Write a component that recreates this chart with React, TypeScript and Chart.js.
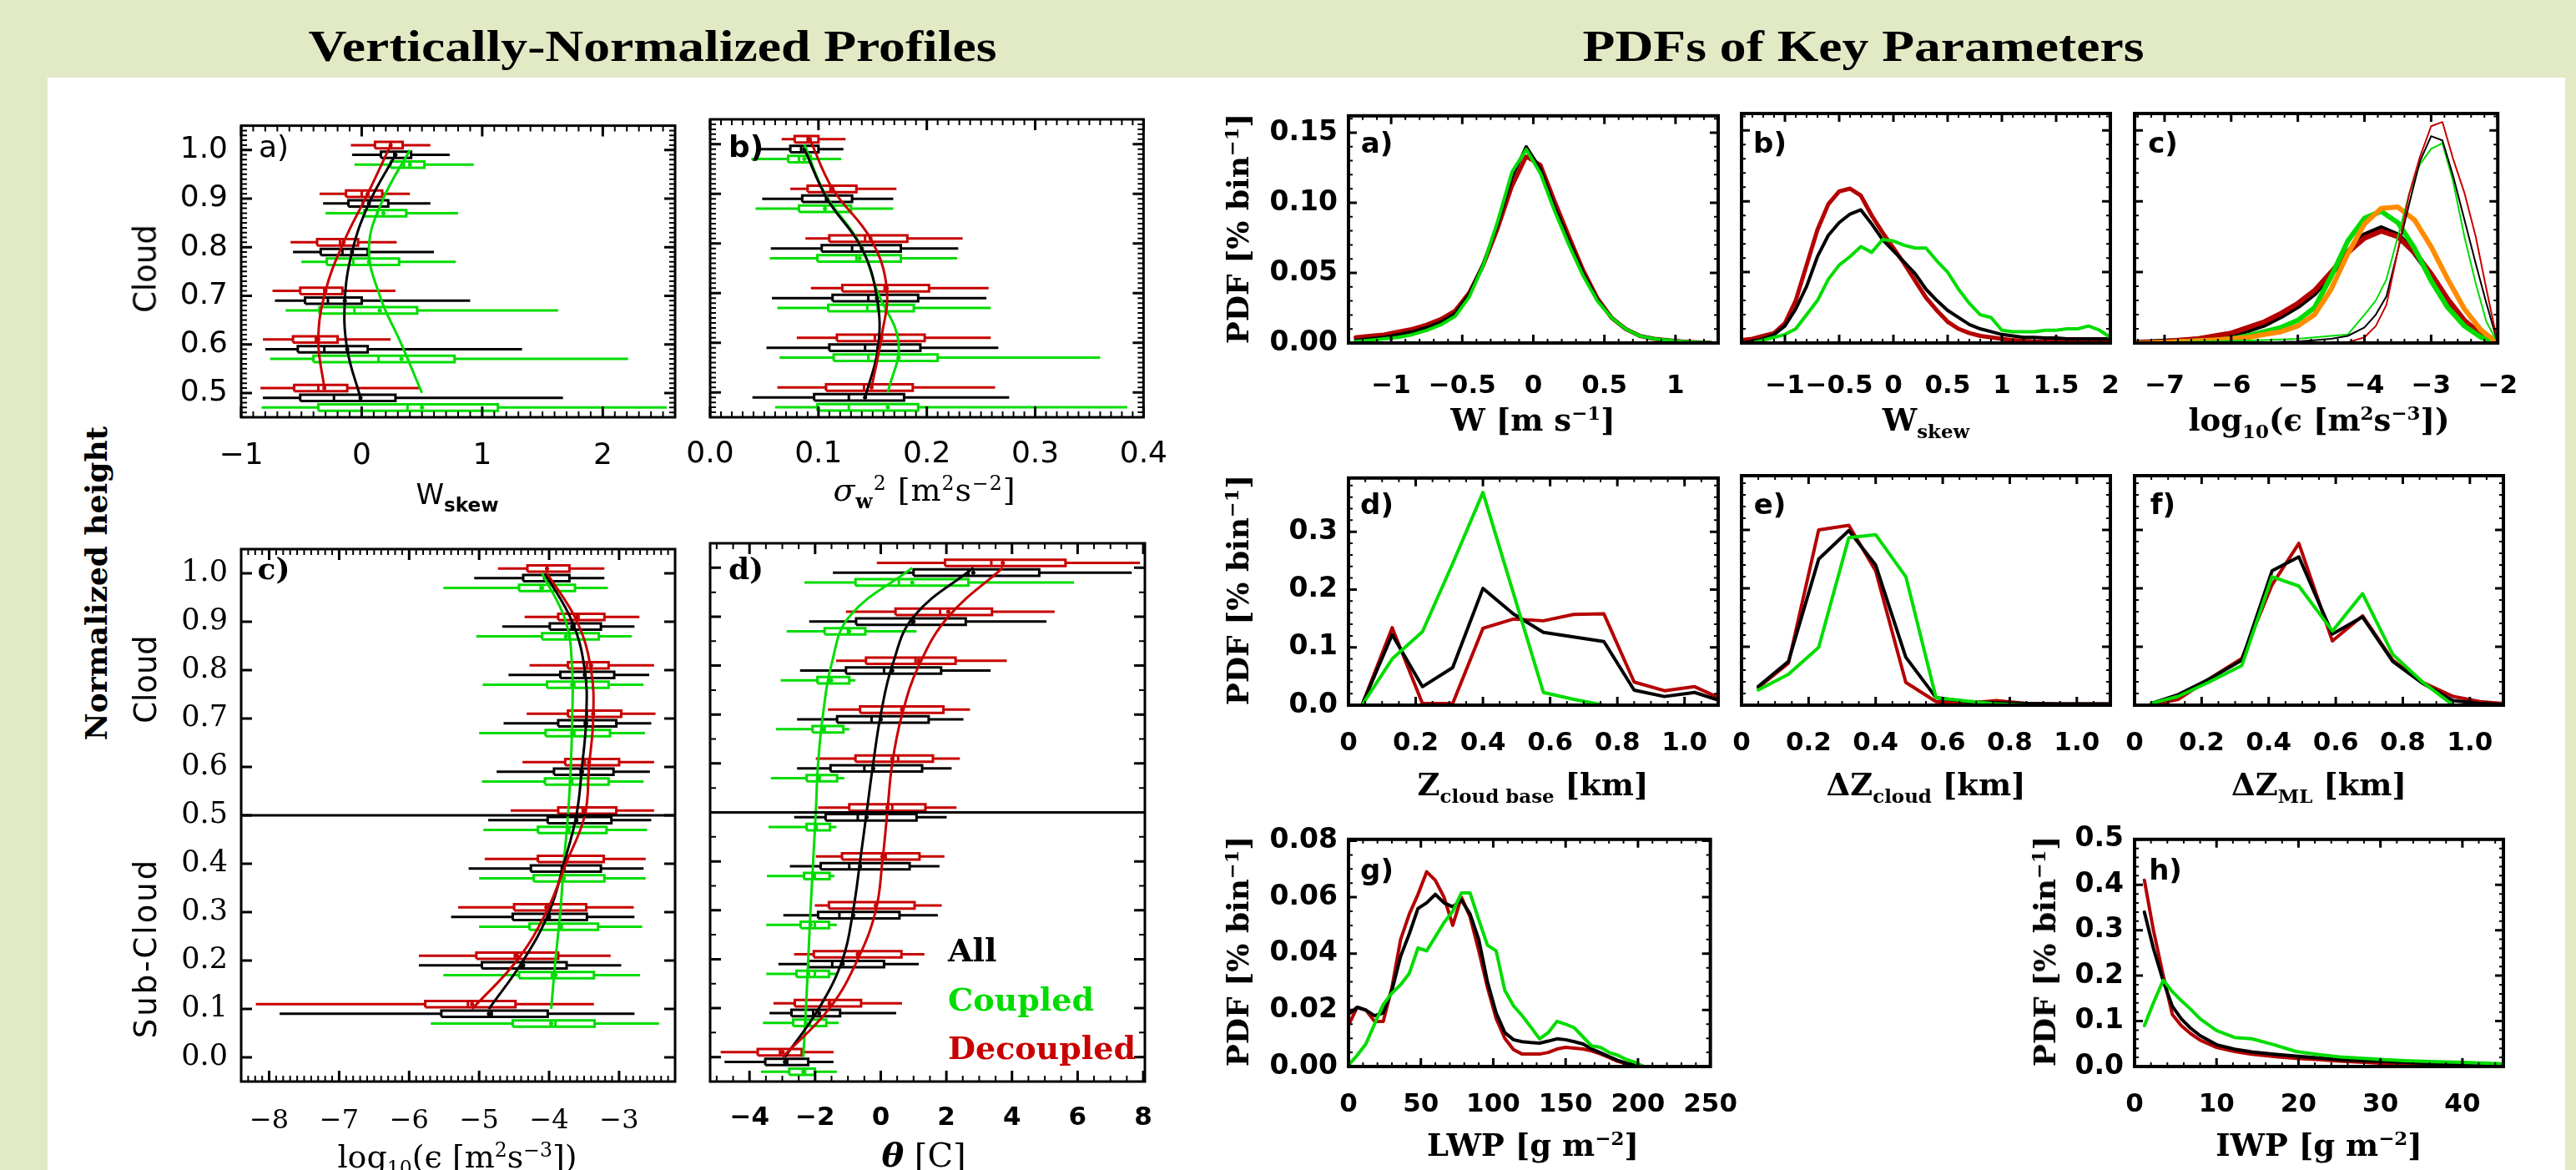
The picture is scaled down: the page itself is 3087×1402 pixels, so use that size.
import React, { useEffect, useRef } from "react";
import { Chart, registerables } from "chart.js";
Chart.register(...registerables);

const BLACK = "#000000";
const GREEN = "#00dc00";
const RED = "#c80000";
const DRED = "#b40000";
const ORANGE = "#ff8c00";

// ---------------- Left: vertically-normalized profiles ----------------
// rows: [whiskerMin, q1, median, q3, whiskerMax, mean]
const LEVELS_AB = [1.0, 0.9, 0.8, 0.7, 0.6, 0.5];
const LEVELS_C = [1.0, 0.9, 0.8, 0.7, 0.6, 0.5, 0.4, 0.3, 0.2, 0.1];
const LEVELS_D = [1.0, 0.9, 0.8, 0.7, 0.6, 0.5, 0.4, 0.3, 0.2, 0.1, 0.0];

const WSKEW_DEC = [
  [-0.09, 0.11, 0.24, 0.34, 0.57, 0.24],
  [-0.35, -0.13, 0.0, 0.17, 0.4, 0.05],
  [-0.59, -0.37, -0.18, -0.03, 0.29, -0.15],
  [-0.74, -0.51, -0.31, -0.16, 0.28, -0.3],
  [-0.82, -0.57, -0.38, -0.2, 0.24, -0.36],
  [-0.84, -0.56, -0.36, -0.12, 0.48, -0.31],
];
const WSKEW_ALL = [
  [-0.08, 0.16, 0.27, 0.41, 0.73, 0.28],
  [-0.32, -0.11, 0.01, 0.22, 0.57, 0.06],
  [-0.57, -0.34, -0.16, 0.05, 0.6, -0.08],
  [-0.72, -0.47, -0.28, 0.0, 0.9, -0.14],
  [-0.8, -0.53, -0.31, 0.05, 1.33, -0.12],
  [-0.82, -0.51, -0.23, 0.28, 1.67, -0.01],
];
const WSKEW_CPL = [
  [-0.06, 0.24, 0.35, 0.52, 0.93, 0.4],
  [-0.3, 0.02, 0.13, 0.37, 0.8, 0.18],
  [-0.5, -0.29, -0.07, 0.31, 0.78, 0.06],
  [-0.63, -0.35, -0.06, 0.46, 1.63, 0.15],
  [-0.76, -0.4, 0.14, 0.77, 2.21, 0.33],
  [-0.83, -0.36, 0.38, 1.13, 2.53, 0.5],
];

const SIGW_DEC = [
  [0.066, 0.078, 0.09, 0.1, 0.125, 0.092],
  [0.074, 0.09, 0.111, 0.135, 0.172, 0.113],
  [0.088, 0.11, 0.143, 0.182, 0.233, 0.148],
  [0.093, 0.122, 0.161, 0.202, 0.257, 0.163],
  [0.08, 0.117, 0.152, 0.198, 0.259, 0.158],
  [0.062, 0.107, 0.142, 0.187, 0.263, 0.149],
];
const SIGW_ALL = [
  [0.046, 0.074, 0.084, 0.1, 0.123, 0.087],
  [0.048, 0.085, 0.107, 0.131, 0.169, 0.108],
  [0.056, 0.103, 0.131, 0.176, 0.229, 0.14],
  [0.057, 0.113, 0.146, 0.192, 0.255, 0.154],
  [0.052, 0.11, 0.143, 0.194, 0.266, 0.155],
  [0.039, 0.096, 0.128, 0.179, 0.276, 0.143],
];
const SIGW_CPL = [
  [0.038, 0.072, 0.082, 0.093, 0.121, 0.087],
  [0.042, 0.082, 0.106, 0.13, 0.169, 0.106],
  [0.055, 0.099, 0.135, 0.176, 0.228, 0.138],
  [0.062, 0.109, 0.145, 0.188, 0.259, 0.155],
  [0.064, 0.114, 0.146, 0.21, 0.36, 0.174],
  [0.06, 0.099, 0.128, 0.192, 0.385, 0.164],
];

const EPS_DEC = [
  [-4.73, -4.31, -4.03, -3.71, -3.21, -4.03],
  [-4.35, -3.87, -3.58, -3.21, -2.71, -3.6],
  [-4.28, -3.73, -3.46, -3.15, -2.5, -3.4],
  [-4.32, -3.73, -3.46, -2.97, -2.48, -3.37],
  [-4.38, -3.77, -3.49, -3.0, -2.5, -3.43],
  [-4.55, -3.87, -3.52, -3.04, -2.5, -3.49],
  [-4.92, -4.16, -3.76, -3.22, -2.62, -3.76],
  [-5.3, -4.5, -4.0, -3.47, -2.79, -4.04],
  [-5.86, -5.04, -4.49, -3.87, -3.12, -4.46],
  [-8.19, -5.77, -5.16, -4.48, -3.36, -5.1],
];
const EPS_ALL = [
  [-5.07, -4.37, -4.06, -3.71, -3.21, -4.06],
  [-4.67, -3.99, -3.64, -3.26, -2.78, -3.67],
  [-4.58, -3.84, -3.49, -3.07, -2.57, -3.49],
  [-4.65, -3.87, -3.49, -3.04, -2.54, -3.47],
  [-4.75, -3.93, -3.55, -3.08, -2.56, -3.53],
  [-4.87, -4.02, -3.61, -3.11, -2.54, -3.61],
  [-5.15, -4.26, -3.82, -3.26, -2.65, -3.79],
  [-5.4, -4.52, -4.0, -3.46, -2.78, -4.0],
  [-5.86, -4.96, -4.4, -3.75, -2.97, -4.37],
  [-7.85, -5.54, -4.82, -4.02, -2.78, -4.86],
];
const EPS_CPL = [
  [-5.51, -4.43, -4.12, -3.63, -3.16, -4.1],
  [-5.04, -4.1, -3.71, -3.29, -2.82, -3.76],
  [-4.95, -4.03, -3.64, -3.15, -2.65, -3.67],
  [-5.0, -4.05, -3.64, -3.13, -2.63, -3.67],
  [-4.96, -4.06, -3.67, -3.15, -2.65, -3.69],
  [-4.94, -4.16, -3.71, -3.18, -2.6, -3.73],
  [-5.0, -4.22, -3.79, -3.21, -2.62, -3.79],
  [-5.0, -4.28, -3.82, -3.3, -2.67, -3.84],
  [-5.51, -4.43, -3.96, -3.36, -2.7, -3.91],
  [-5.69, -4.52, -3.91, -3.35, -2.43, -3.97],
];

const THETA_DEC = [
  [-0.12, 1.96, 3.37, 5.63, 7.9, 3.72],
  [-1.06, 0.45, 1.81, 3.39, 5.3, 2.06],
  [-1.36, -0.45, 1.06, 2.28, 3.84, 1.16],
  [-1.61, -0.63, 0.65, 1.91, 2.72, 0.65],
  [-1.98, -0.77, 0.53, 1.59, 2.41, 0.35],
  [-1.91, -0.96, 0.35, 1.36, 2.31, 0.2],
  [-1.98, -1.18, 0.15, 1.18, 1.94, 0.05],
  [-2.01, -1.58, -0.15, 1.03, 1.86, -0.15],
  [-2.64, -2.04, -0.7, 0.63, 1.33, -0.7],
  [-3.27, -2.62, -1.56, -0.6, 0.65, -1.56],
  [-4.88, -3.75, -3.07, -2.41, -1.44, -2.99],
];
const THETA_ALL = [
  [-1.46, 1.0, 2.67, 4.83, 7.65, 2.82],
  [-2.18, -0.75, 0.96, 2.59, 5.05, 1.0],
  [-2.46, -1.06, 0.1, 1.84, 3.35, 0.35],
  [-2.55, -1.33, -0.28, 1.46, 2.52, 0.0],
  [-2.55, -1.53, -0.5, 1.26, 2.16, -0.23],
  [-2.64, -1.68, -0.7, 1.09, 2.01, -0.43],
  [-2.77, -1.83, -0.96, 0.88, 1.79, -0.63],
  [-2.97, -1.91, -1.26, 0.57, 1.74, -0.84],
  [-3.12, -2.21, -1.48, 0.1, 1.16, -1.16],
  [-3.39, -2.72, -2.06, -1.24, 0.47, -1.88],
  [-4.76, -3.52, -2.85, -2.21, -1.44, -2.92],
];
const THETA_CPL = [
  [-2.33, -0.77, 0.55, 2.67, 5.89, 0.96],
  [-2.87, -1.71, -1.0, -0.47, 1.09, -0.96],
  [-3.05, -1.93, -1.56, -0.96, -0.77, -1.51],
  [-3.19, -2.08, -1.71, -1.14, -0.96, -1.76],
  [-3.35, -2.26, -1.86, -1.33, -1.11, -1.91],
  [-3.42, -2.26, -1.96, -1.55, -1.35, -1.98],
  [-3.47, -2.34, -2.01, -1.56, -1.41, -2.06],
  [-3.49, -2.44, -2.01, -1.58, -1.34, -2.14],
  [-3.49, -2.57, -2.01, -1.58, -1.31, -2.21],
  [-3.59, -2.67, -2.16, -1.66, -1.28, -2.28],
  [-3.65, -2.79, -2.31, -2.01, -1.34, -2.36],
];

// tick values / labels (left)
const A_XTICKS = [-1, 0, 1, 2];
const A_XLABELS = ["\u22121", "0", "1", "2"];
const B_XTICKS = [0, 0.1, 0.2, 0.3, 0.4];
const B_XLABELS = ["0.0", "0.1", "0.2", "0.3", "0.4"];
const AB_YTICKS = [0.5, 0.6, 0.7, 0.8, 0.9, 1.0];
const AB_YLABELS = ["0.5", "0.6", "0.7", "0.8", "0.9", "1.0"];
const C_XTICKS = [-8, -7, -6, -5, -4, -3];
const C_XLABELS = ["\u22128", "\u22127", "\u22126", "\u22125", "\u22124", "\u22123"];
const D_XTICKS = [-4, -2, 0, 2, 4, 6, 8];
const D_XLABELS = ["\u22124", "\u22122", "0", "2", "4", "6", "8"];
const CD_YTICKS = [0, 0.1, 0.2, 0.3, 0.4, 0.5, 0.6, 0.7, 0.8, 0.9, 1.0];
const CD_YLABELS = ["0.0", "0.1", "0.2", "0.3", "0.4", "0.5", "0.6", "0.7", "0.8", "0.9", "1.0"];

// ---------------- Right: PDFs ----------------
const W_X = [-1.25, -1.15, -1.05, -0.95, -0.85, -0.75, -0.65, -0.55, -0.45, -0.35, -0.25, -0.15, -0.05, 0.05, 0.15, 0.25, 0.35, 0.45, 0.55, 0.65, 0.75, 0.85, 0.95, 1.05, 1.15, 1.25];
const W_ALL = [0.002, 0.003, 0.004, 0.006, 0.008, 0.011, 0.015, 0.021, 0.035, 0.057, 0.085, 0.118, 0.14, 0.124, 0.097, 0.073, 0.05, 0.031, 0.018, 0.01, 0.005, 0.003, 0.002, 0.001, 0.0005, 0.0002];
const W_DEC = [0.004, 0.005, 0.006, 0.008, 0.01, 0.013, 0.017, 0.023, 0.036, 0.056, 0.082, 0.112, 0.133, 0.127, 0.101, 0.076, 0.052, 0.032, 0.018, 0.01, 0.005, 0.003, 0.002, 0.001, 0.0005, 0.0002];
const W_CPL = [0.001, 0.002, 0.003, 0.004, 0.006, 0.009, 0.013, 0.019, 0.033, 0.056, 0.087, 0.122, 0.138, 0.121, 0.094, 0.07, 0.048, 0.03, 0.018, 0.01, 0.005, 0.003, 0.002, 0.001, 0.0005, 0.0002];

const SK_X = [-1.4, -1.3, -1.2, -1.1, -1.0, -0.9, -0.8, -0.7, -0.6, -0.5, -0.4, -0.3, -0.2, -0.1, 0.0, 0.1, 0.2, 0.3, 0.4, 0.5, 0.6, 0.7, 0.8, 0.9, 1.0, 1.1, 1.2, 1.3, 1.4, 1.5, 1.6, 1.7, 1.8, 1.9, 2.0];
const SK_DEC = [0.002, 0.003, 0.005, 0.007, 0.014, 0.03, 0.055, 0.08, 0.098, 0.107, 0.109, 0.104, 0.09, 0.078, 0.067, 0.056, 0.044, 0.032, 0.023, 0.015, 0.01, 0.007, 0.005, 0.004, 0.003, 0.002, 0.0015, 0.001, 0.001, 0.001, 0.0008, 0.0006, 0.0005, 0.0005, 0.0005];
const SK_ALL = [0.0, 0.001, 0.003, 0.006, 0.012, 0.024, 0.04, 0.061, 0.076, 0.085, 0.091, 0.094, 0.084, 0.073, 0.065, 0.057, 0.049, 0.038, 0.03, 0.023, 0.018, 0.013, 0.01, 0.008, 0.006, 0.005, 0.004, 0.004, 0.0035, 0.0035, 0.003, 0.003, 0.003, 0.003, 0.003];
const SK_CPL = [0.0, 0.0, 0.002, 0.004, 0.006, 0.01, 0.02, 0.03, 0.045, 0.055, 0.061, 0.068, 0.064, 0.073, 0.072, 0.069, 0.067, 0.067, 0.058, 0.05, 0.038, 0.028, 0.02, 0.018, 0.009, 0.008, 0.008, 0.008, 0.009, 0.009, 0.01, 0.01, 0.012, 0.009, 0.004];

const EPS_X = [-7.5, -7.25, -7, -6.75, -6.5, -6.25, -6, -5.75, -5.5, -5.25, -5, -4.75, -4.5, -4.25, -4, -3.75, -3.5, -3.25, -3, -2.75, -2.5, -2.25, -2];
const EPS_PDF_ALL = [0.0, 0.0005, 0.001, 0.0015, 0.0025, 0.004, 0.006, 0.009, 0.013, 0.019, 0.026, 0.035, 0.049, 0.064, 0.076, 0.081, 0.076, 0.064, 0.048, 0.03, 0.015, 0.005, 0.0];
const EPS_PDF_DEC = [0.0, 0.0005, 0.001, 0.002, 0.003, 0.005, 0.007, 0.011, 0.015, 0.021, 0.028, 0.037, 0.05, 0.064, 0.074, 0.079, 0.075, 0.064, 0.049, 0.031, 0.016, 0.006, 0.0];
const EPS_PDF_CPL = [0.0, 0.0, 0.0005, 0.001, 0.0015, 0.002, 0.003, 0.005, 0.008, 0.011, 0.016, 0.025, 0.047, 0.072, 0.088, 0.093, 0.085, 0.067, 0.044, 0.025, 0.012, 0.004, 0.0];
const EPS_PDF_ORANGE = [0.0, 0.0, 0.0005, 0.001, 0.0015, 0.002, 0.003, 0.004, 0.006, 0.008, 0.012, 0.02, 0.038, 0.063, 0.084, 0.095, 0.096, 0.087, 0.068, 0.045, 0.024, 0.009, 0.0];
const EPS_THIN_X = [-7.5, -6.5, -5.5, -5.0, -4.5, -4.25, -4.0, -3.83, -3.67, -3.5, -3.33, -3.17, -3.0, -2.83, -2.67, -2.5, -2.33, -2.17, -2.0];
const EPS_THIN_ALL = [0, 0, 0.0005, 0.001, 0.003, 0.005, 0.011, 0.02, 0.033, 0.065, 0.098, 0.128, 0.146, 0.143, 0.118, 0.087, 0.056, 0.028, 0.0];
const EPS_THIN_DEC = [0, 0, 0, 0, 0, 0.0005, 0.004, 0.012, 0.027, 0.065, 0.105, 0.131, 0.153, 0.156, 0.13, 0.106, 0.075, 0.038, 0.0];
const EPS_THIN_CPL = [0, 0.001, 0.002, 0.003, 0.005, 0.006, 0.02, 0.03, 0.045, 0.075, 0.105, 0.126, 0.137, 0.141, 0.114, 0.075, 0.042, 0.015, 0.0];

const ZB_X = [0.04, 0.13, 0.22, 0.31, 0.4, 0.49, 0.58, 0.67, 0.76, 0.85, 0.94, 1.03, 1.12];
const ZB_DEC = [0.0, 0.134, 0.003, 0.003, 0.133, 0.149, 0.146, 0.157, 0.158, 0.04, 0.025, 0.032, 0.008];
const ZB_ALL = [0.0, 0.122, 0.032, 0.065, 0.202, 0.158, 0.126, 0.118, 0.11, 0.026, 0.015, 0.022, 0.005];
const ZB_CPL = [0.0, 0.08, 0.127, 0.245, 0.368, 0.195, 0.022, 0.01, 0.0, 0.0, 0.0, 0.0, 0.0];

const DZC_X = [0.05, 0.14, 0.23, 0.32, 0.4, 0.49, 0.58, 0.67, 0.76, 0.85, 0.94, 1.03, 1.12];
const DZC_DEC = [0.03, 0.072, 0.3, 0.308, 0.23, 0.039, 0.006, 0.003, 0.008, 0.003, 0.002, 0.002, 0.002];
const DZC_ALL = [0.032, 0.075, 0.25, 0.299, 0.24, 0.082, 0.013, 0.006, 0.004, 0.003, 0.002, 0.002, 0.002];
const DZC_CPL = [0.026, 0.053, 0.099, 0.287, 0.292, 0.22, 0.013, 0.007, 0.002, 0.0, 0.0, 0.0, 0.0];

const DZML_X = [0.05, 0.13, 0.22, 0.32, 0.41, 0.49, 0.59, 0.68, 0.77, 0.86, 0.95, 1.03, 1.12];
const DZML_DEC = [0.0, 0.01, 0.044, 0.08, 0.206, 0.277, 0.11, 0.153, 0.077, 0.039, 0.015, 0.006, 0.002];
const DZML_ALL = [0.003, 0.018, 0.044, 0.077, 0.23, 0.254, 0.122, 0.151, 0.075, 0.037, 0.008, 0.003, 0.001];
const DZML_CPL = [0.003, 0.015, 0.039, 0.068, 0.22, 0.204, 0.127, 0.191, 0.087, 0.039, 0.0, 0.0, 0.0];

const LWP_X = [0, 6, 12, 18, 24, 30, 36, 42, 48, 54, 60, 66, 72, 78, 84, 90, 96, 102, 108, 114, 120, 126, 132, 138, 144, 150, 156, 162, 168, 174, 180, 186, 192, 198, 204];
const LWP_DEC = [0.0146, 0.021, 0.02, 0.016, 0.016, 0.028, 0.045, 0.054, 0.061, 0.069, 0.066, 0.06, 0.05, 0.06, 0.053, 0.041, 0.028, 0.017, 0.01, 0.006, 0.0044, 0.0044, 0.0044, 0.005, 0.0062, 0.0068, 0.0065, 0.0062, 0.0055, 0.0045, 0.0032, 0.0018, 0.001, 0.0004, 0.0];
const LWP_ALL = [0.0185, 0.021, 0.02, 0.018, 0.019, 0.027, 0.039, 0.047, 0.056, 0.058, 0.061, 0.058, 0.0566, 0.059, 0.054, 0.045, 0.03, 0.019, 0.012, 0.0095, 0.0088, 0.0085, 0.0083, 0.009, 0.0098, 0.0095, 0.0088, 0.008, 0.0062, 0.0049, 0.0035, 0.0022, 0.0012, 0.0005, 0.0];
const LWP_CPL = [0.0005, 0.004, 0.008, 0.015, 0.022, 0.026, 0.029, 0.033, 0.042, 0.041, 0.046, 0.051, 0.055, 0.0615, 0.0615, 0.052, 0.043, 0.041, 0.027, 0.0215, 0.018, 0.014, 0.0098, 0.012, 0.016, 0.015, 0.0137, 0.0105, 0.0073, 0.0068, 0.005, 0.004, 0.0025, 0.0015, 0.0];

const IWP_X = [1.2, 2.3, 3.5, 4.6, 5.7, 6.8, 8, 10, 12.2, 14.3, 17, 19.7, 22.5, 25, 28, 30.5, 33, 35.9, 40, 45];
const IWP_DEC = [0.41, 0.3, 0.2, 0.115, 0.09, 0.073, 0.058, 0.042, 0.033, 0.027, 0.022, 0.018, 0.015, 0.012, 0.009, 0.007, 0.0055, 0.004, 0.0025, 0.001];
const IWP_ALL = [0.34, 0.26, 0.188, 0.133, 0.105, 0.085, 0.068, 0.048, 0.038, 0.032, 0.027, 0.023, 0.019, 0.015, 0.013, 0.011, 0.009, 0.007, 0.005, 0.003];
const IWP_CPL = [0.09, 0.14, 0.19, 0.165, 0.145, 0.127, 0.105, 0.079, 0.064, 0.061, 0.048, 0.033, 0.026, 0.021, 0.018, 0.015, 0.013, 0.011, 0.009, 0.006];

// tick values / labels (right)
const RA_XTICKS = [-1, -0.5, 0, 0.5, 1];
const RA_XLABELS = ["\u22121", "\u22120.5", "0", "0.5", "1"];
const RB_XTICKS = [-1, -0.5, 0, 0.5, 1, 1.5, 2];
const RB_XLABELS = ["\u22121", "\u22120.5", "0", "0.5", "1", "1.5", "2"];
const RC_XTICKS = [-7, -6, -5, -4, -3, -2];
const RC_XLABELS = ["\u22127", "\u22126", "\u22125", "\u22124", "\u22123", "\u22122"];
const R1_YTICKS = [0, 0.05, 0.1, 0.15];
const R1_YLABELS = ["0.00", "0.05", "0.10", "0.15"];
const R2_XTICKS = [0, 0.2, 0.4, 0.6, 0.8, 1.0];
const R2_XLABELS = ["0", "0.2", "0.4", "0.6", "0.8", "1.0"];
const R2_YTICKS = [0, 0.1, 0.2, 0.3];
const R2_YLABELS = ["0.0", "0.1", "0.2", "0.3"];
const RG_XTICKS = [0, 50, 100, 150, 200, 250];
const RG_XLABELS = ["0", "50", "100", "150", "200", "250"];
const RG_YTICKS = [0, 0.02, 0.04, 0.06, 0.08];
const RG_YLABELS = ["0.00", "0.02", "0.04", "0.06", "0.08"];
const RH_XTICKS = [0, 10, 20, 30, 40];
const RH_XLABELS = ["0", "10", "20", "30", "40"];
const RH_YTICKS = [0, 0.1, 0.2, 0.3, 0.4, 0.5];
const RH_YLABELS = ["0.0", "0.1", "0.2", "0.3", "0.4", "0.5"];

// ---------------- helpers ----------------
const HH = 0.0065;
const PAD_T = 30;
const PAD_R = 50;
const PAD_B = 100;

function boxPoints(levels: number[], rows: number[][], dy: number) {
  const pts: any[] = [];
  rows.forEach((r, i) => {
    const y = levels[i] + dy;
    const [mn, q1, md, q3, mx] = r;
    pts.push({ x: mn, y }, { x: q1, y }, { x: q1, y: null });
    pts.push({ x: q3, y }, { x: mx, y }, { x: mx, y: null });
    pts.push({ x: q1, y: y - HH }, { x: q3, y: y - HH }, { x: q3, y: y + HH }, { x: q1, y: y + HH }, { x: q1, y: y - HH }, { x: q1, y: null });
    pts.push({ x: md, y: y - HH }, { x: md, y: y + HH }, { x: md, y: null });
  });
  return pts;
}

function profileDatasets(levels: number[], dec: number[][], all: number[][], cpl: number[][], shiftLines: boolean) {
  const groups: any[] = [
    [dec, RED, 0.01, shiftLines ? 0.01 : 0],
    [all, BLACK, -0.01, shiftLines ? -0.01 : 0],
    [cpl, GREEN, -0.03, 0],
  ];
  const lines = groups.map(([rows, c, , ld]) => ({
    data: rows.map((r: number[], i: number) => ({ x: r[5], y: levels[i] + ld })),
    borderColor: c, backgroundColor: c, borderWidth: 3, pointRadius: 0, tension: 0.4,
  }));
  const dots = groups.map(([rows, c, d]) => ({
    data: rows.map((r: number[], i: number) => ({ x: r[5], y: levels[i] + d })),
    showLine: false, pointRadius: 2.5, pointBackgroundColor: c, pointBorderWidth: 0, borderColor: c, backgroundColor: c,
  }));
  const boxes = groups.map(([rows, c, d]) => ({
    data: boxPoints(levels, rows, d),
    borderColor: c, backgroundColor: c, borderWidth: 3, pointRadius: 0, tension: 0, spanGaps: false,
  }));
  return [...lines, ...dots, ...boxes];
}

function pdf(xs: number[], ys: number[], color: string, width: number) {
  return {
    data: xs.map((x, i) => ({ x, y: ys[i] })),
    borderColor: color, backgroundColor: color, borderWidth: width, pointRadius: 0, tension: 0,
    borderJoinStyle: "round", borderCapStyle: "round",
  };
}

function steps(min: number, max: number, step: number) {
  const out: number[] = [];
  const n0 = Math.ceil(min / step - 1e-9);
  const n1 = Math.floor(max / step + 1e-9);
  for (let k = n0; k <= n1; k++) out.push(k * step);
  return out;
}

function idlPlugin(p: any) {
  return {
    id: "idl" + p.id,
    afterDatasetsDraw(chart: any) {
      const { ctx, chartArea: a } = chart;
      const xs = chart.scales.x;
      const ys = chart.scales.y;
      ctx.save();
      ctx.strokeStyle = "#000";
      ctx.lineCap = "butt";
      if (p.hline != null) {
        const py = ys.getPixelForValue(p.hline);
        ctx.lineWidth = 3;
        ctx.beginPath();
        ctx.moveTo(a.left, py);
        ctx.lineTo(a.right, py);
        ctx.stroke();
      }
      const drawX = (vals: number[], len: number, lw: number) => {
        ctx.lineWidth = lw;
        ctx.beginPath();
        vals.forEach((v) => {
          const px = xs.getPixelForValue(v);
          if (px < a.left - 0.5 || px > a.right + 0.5) return;
          ctx.moveTo(px, a.bottom);
          ctx.lineTo(px, a.bottom - len);
          ctx.moveTo(px, a.top);
          ctx.lineTo(px, a.top + len);
        });
        ctx.stroke();
      };
      const drawY = (vals: number[], len: number, lw: number) => {
        ctx.lineWidth = lw;
        ctx.beginPath();
        vals.forEach((v) => {
          const py = ys.getPixelForValue(v);
          if (py < a.top - 0.5 || py > a.bottom + 0.5) return;
          ctx.moveTo(a.left, py);
          ctx.lineTo(a.left + len, py);
          ctx.moveTo(a.right, py);
          ctx.lineTo(a.right - len, py);
        });
        ctx.stroke();
      };
      if (p.xMinor) drawX(steps(p.xMin, p.xMax, p.xMinor), p.minor, 2);
      if (p.yMinor) drawY(steps(p.yMin, p.yMax, p.yMinor), p.minor, 2);
      drawX(p.xTicks, p.major, 3);
      drawY(p.yTicks, p.major, 3);
      ctx.lineWidth = p.frameW;
      ctx.strokeRect(a.left, a.top, a.right - a.left, a.bottom - a.top);
      ctx.restore();
    },
  };
}

function axis(min: number, max: number, ticks: number[], labels: string[] | null, font: any, pad: number, fit: (s: any) => void) {
  return {
    type: "linear",
    min, max,
    grid: { display: false, drawTicks: false },
    border: { display: false },
    ticks: {
      display: !!labels,
      autoSkip: false,
      maxRotation: 0,
      minRotation: 0,
      padding: pad,
      color: "#000",
      font,
      callback: (_v: any, i: number) => (labels ? labels[i] : ""),
    },
    afterBuildTicks: (s: any) => {
      s.ticks = ticks.map((v) => ({ value: v }));
    },
    afterFit: fit,
  };
}

function makeConfig(p: any): any {
  return {
    type: "line",
    data: { datasets: p.datasets },
    options: {
      responsive: false,
      maintainAspectRatio: false,
      animation: false,
      devicePixelRatio: 1,
      events: [],
      layout: { padding: { left: 0, right: PAD_R, top: PAD_T, bottom: 0 } },
      plugins: { legend: { display: false }, tooltip: { enabled: false }, title: { display: false } },
      scales: {
        x: axis(p.xMin, p.xMax, p.xTicks, p.xLabels, p.xFont, p.xPad, (s: any) => { s.height = PAD_B; }),
        y: axis(p.yMin, p.yMax, p.yTicks, p.yLabels, p.yFont, p.yPad, (s: any) => { s.width = p.L; }),
      },
    },
    plugins: [idlPlugin(p)],
  };
}

const LF = { family: "DejaVu Sans", size: 36, weight: "normal" };
const LFS = { family: "DejaVu Serif", size: 32, weight: "normal" };
const LFSY = { family: "DejaVu Serif", size: 35, weight: "normal" };
const LFD = { family: "DejaVu Sans", size: 31, weight: "bold" };
const RFX = { family: "DejaVu Sans", size: 31, weight: "bold" };
const RFY = { family: "DejaVu Sans", size: 33, weight: "bold" };

const leftCommon = { major: 13, minor: 7, frameW: 3 };
const rightCommon = { major: 10, minor: 5, frameW: 4, xFont: RFX, yFont: RFY, yPad: 13 };

const COL1 = 1616, COL2 = 2087, COL3 = 2558, CW = 443;
const ROW1 = 136, ROW2 = 570, ROW3 = 1003, RH = 275;

const PANELS: any[] = [
  {
    id: "A", ...leftCommon, box: { x: 289, y: 143, w: 520, h: 357 }, L: 120,
    xMin: -1, xMax: 2.6, yMin: 0.45, yMax: 1.05, xTicks: A_XTICKS, xLabels: A_XLABELS, yTicks: AB_YTICKS, yLabels: AB_YLABELS,
    xMinor: 0.1, yMinor: 0.01, xFont: LF, yFont: LF, xPad: 25, yPad: 16,
    datasets: profileDatasets(LEVELS_AB, WSKEW_DEC, WSKEW_ALL, WSKEW_CPL, true),
  },
  {
    id: "B", ...leftCommon, box: { x: 851, y: 143, w: 521, h: 357 }, L: 60,
    xMin: 0, xMax: 0.4, yMin: 0.45, yMax: 1.05, xTicks: B_XTICKS, xLabels: B_XLABELS, yTicks: AB_YTICKS, yLabels: null,
    xMinor: 0.01, yMinor: 0.01, xFont: LF, yFont: LF, xPad: 23, yPad: 16,
    datasets: profileDatasets(LEVELS_AB, SIGW_DEC, SIGW_ALL, SIGW_CPL, true),
  },
  {
    id: "C", ...leftCommon, box: { x: 289, y: 651, w: 520, h: 645 }, L: 120,
    xMin: -8.4, xMax: -2.2, yMin: -0.05, yMax: 1.05, xTicks: C_XTICKS, xLabels: C_XLABELS, yTicks: CD_YTICKS, yLabels: CD_YLABELS,
    xMinor: 0.1, yMinor: null, xFont: LFS, yFont: LFSY, xPad: 28, yPad: 16, hline: 0.5,
    datasets: profileDatasets(LEVELS_C, EPS_DEC, EPS_ALL, EPS_CPL, false),
  },
  {
    id: "D", ...leftCommon, box: { x: 851, y: 651, w: 521, h: 645 }, L: 60,
    xMin: -5.2, xMax: 8.05, yMin: -0.05, yMax: 1.05, xTicks: D_XTICKS, xLabels: D_XLABELS, yTicks: CD_YTICKS, yLabels: null,
    xMinor: 0.5, yMinor: 0.05, xFont: LFD, yFont: LFD, xPad: 25, yPad: 16, hline: 0.5,
    datasets: profileDatasets(LEVELS_D, THETA_DEC, THETA_ALL, THETA_CPL, false),
  },
  {
    id: "RA", ...rightCommon, box: { x: COL1, y: ROW1, w: CW, h: RH }, L: 120,
    xMin: -1.3, xMax: 1.3, yMin: 0, yMax: 0.162, xTicks: RA_XTICKS, xLabels: RA_XLABELS, yTicks: R1_YTICKS, yLabels: R1_YLABELS,
    xMinor: 0.1, yMinor: 0.01, xPad: 33,
    datasets: [pdf(W_X, W_CPL, GREEN, 4), pdf(W_X, W_ALL, BLACK, 4), pdf(W_X, W_DEC, DRED, 5)],
  },
  {
    id: "RB", ...rightCommon, box: { x: COL2, y: ROW1, w: 442, h: RH }, L: 60,
    xMin: -1.4, xMax: 2.0, yMin: 0, yMax: 0.162, xTicks: RB_XTICKS, xLabels: RB_XLABELS, yTicks: R1_YTICKS, yLabels: null,
    xMinor: 0.1, yMinor: 0.01, xPad: 33,
    datasets: [pdf(SK_X, SK_CPL, GREEN, 4), pdf(SK_X, SK_ALL, BLACK, 4), pdf(SK_X, SK_DEC, DRED, 5)],
  },
  {
    id: "RC", ...rightCommon, box: { x: COL3, y: ROW1, w: 442, h: RH }, L: 60,
    xMin: -7.45, xMax: -2.0, yMin: 0, yMax: 0.162, xTicks: RC_XTICKS, xLabels: RC_XLABELS, yTicks: R1_YTICKS, yLabels: null,
    xMinor: 0.2, yMinor: 0.01, xPad: 33,
    datasets: [
      pdf(EPS_THIN_X, EPS_THIN_DEC, RED, 2),
      pdf(EPS_THIN_X, EPS_THIN_ALL, BLACK, 2),
      pdf(EPS_THIN_X, EPS_THIN_CPL, GREEN, 2),
      pdf(EPS_X, EPS_PDF_ORANGE, ORANGE, 6),
      pdf(EPS_X, EPS_PDF_CPL, GREEN, 6),
      pdf(EPS_X, EPS_PDF_DEC, DRED, 6),
      pdf(EPS_X, EPS_PDF_ALL, BLACK, 7),
    ],
  },
  {
    id: "RD", ...rightCommon, box: { x: COL1, y: ROW2, w: CW, h: RH }, L: 120,
    xMin: 0, xMax: 1.1, yMin: 0, yMax: 0.393, xTicks: R2_XTICKS, xLabels: R2_XLABELS, yTicks: R2_YTICKS, yLabels: R2_YLABELS,
    xMinor: 0.05, yMinor: 0.02, xPad: 27,
    datasets: [pdf(ZB_X, ZB_CPL, GREEN, 4), pdf(ZB_X, ZB_ALL, BLACK, 4), pdf(ZB_X, ZB_DEC, DRED, 4)],
  },
  {
    id: "RE", ...rightCommon, box: { x: COL2, y: ROW2, w: 442, h: RH }, L: 60,
    xMin: 0, xMax: 1.1, yMin: 0, yMax: 0.393, xTicks: R2_XTICKS, xLabels: R2_XLABELS, yTicks: R2_YTICKS, yLabels: null,
    xMinor: 0.05, yMinor: 0.02, xPad: 27,
    datasets: [pdf(DZC_X, DZC_CPL, GREEN, 4), pdf(DZC_X, DZC_ALL, BLACK, 4), pdf(DZC_X, DZC_DEC, DRED, 4)],
  },
  {
    id: "RF", ...rightCommon, box: { x: COL3, y: ROW2, w: 442, h: RH }, L: 60,
    xMin: 0, xMax: 1.1, yMin: 0, yMax: 0.393, xTicks: R2_XTICKS, xLabels: R2_XLABELS, yTicks: R2_YTICKS, yLabels: null,
    xMinor: 0.05, yMinor: 0.02, xPad: 27,
    datasets: [pdf(DZML_X, DZML_CPL, GREEN, 4), pdf(DZML_X, DZML_ALL, BLACK, 4), pdf(DZML_X, DZML_DEC, DRED, 4)],
  },
  {
    id: "RG", ...rightCommon, box: { x: COL1, y: ROW3, w: CW, h: RH }, L: 120,
    xMin: 0, xMax: 250, yMin: 0, yMax: 0.0805, xTicks: RG_XTICKS, xLabels: RG_XLABELS, yTicks: RG_YTICKS, yLabels: RG_YLABELS,
    xMinor: 10, yMinor: 0.005, xPad: 27,
    datasets: [pdf(LWP_X, LWP_CPL, GREEN, 4), pdf(LWP_X, LWP_ALL, BLACK, 4), pdf(LWP_X, LWP_DEC, DRED, 4)],
  },
  {
    id: "RH", ...rightCommon, box: { x: COL3, y: ROW3, w: 442, h: RH }, L: 120,
    xMin: 0, xMax: 45, yMin: 0, yMax: 0.5, xTicks: RH_XTICKS, xLabels: RH_XLABELS, yTicks: RH_YTICKS, yLabels: RH_YLABELS,
    xMinor: 2, yMinor: 0.02, xPad: 27,
    datasets: [pdf(IWP_X, IWP_CPL, GREEN, 4), pdf(IWP_X, IWP_ALL, BLACK, 4), pdf(IWP_X, IWP_DEC, DRED, 4)],
  },
];

function Panel({ p }: { p: any }) {
  const ref = useRef<HTMLCanvasElement | null>(null);
  useEffect(() => {
    const chart = new Chart(ref.current as HTMLCanvasElement, makeConfig(p));
    return () => chart.destroy();
  }, [p]);
  const W = p.L + p.box.w + PAD_R;
  const H = PAD_T + p.box.h + PAD_B;
  return (
    <canvas
      ref={ref}
      width={W}
      height={H}
      style={{ position: "absolute", left: p.box.x - p.L, top: p.box.y - PAD_T, width: W, height: H }}
    />
  );
}

function Tx({ x, y, f, s, w = "normal", rot = 0, sx = 1, align = "center", color = "#000", ls = 0, it = false, children }: any) {
  return (
    <div
      style={{
        position: "absolute", left: x, top: y, fontFamily: f, fontSize: s, fontWeight: w, color,
        lineHeight: 1, whiteSpace: "nowrap", letterSpacing: ls, fontStyle: it ? "italic" : "normal",
        transform: `translate(${align === "left" ? "0" : "-50%"},-50%) rotate(${rot}deg) scaleX(${sx})`,
        transformOrigin: align === "left" ? "0 50%" : "50% 50%",
      }}
    >
      {children}
    </div>
  );
}
const Sub = ({ children, s = 0.62, b = "inherit" }: any) => (
  <span style={{ fontSize: `${s}em`, position: "relative", top: "0.38em", fontWeight: b }}>{children}</span>
);
const Sup = ({ children, s = 0.62 }: any) => (
  <span style={{ fontSize: `${s}em`, position: "relative", top: "-0.55em" }}>{children}</span>
);

const SERIF = "DejaVu Serif";
const SANS = "DejaVu Sans";

export default function App() {
  return (
    <div style={{ position: "absolute", left: 0, top: 0, width: 3087, height: 1402, overflow: "hidden", background: "#e2eac5" }}>
      <div style={{ position: "absolute", left: 57, top: 93, width: 3017, height: 1309, background: "#ffffff" }} />
      <Tx x={782} y={55} f="Liberation Serif" s={53} w="bold" sx={1.2}>Vertically-Normalized Profiles</Tx>
      <Tx x={2233} y={55} f="Liberation Serif" s={53} w="bold" sx={1.2}>PDFs of Key Parameters</Tx>

      {PANELS.map((p) => (
        <Panel key={p.id} p={p} />
      ))}

      {/* left side labels */}
      <Tx x={115} y={699} f={SERIF} s={36} w="bold" rot={-90}>Normalized height</Tx>
      <Tx x={174} y={322} f={SANS} s={37} rot={-90}>Cloud</Tx>
      <Tx x={174} y={814} f={SANS} s={37} rot={-90}>Cloud</Tx>
      <Tx x={174} y={1136} f={SANS} s={37} rot={-90} ls={3}>Sub-Cloud</Tx>
      <Tx x={328} y={176} f={SANS} s={36}>a)</Tx>
      <Tx x={894} y={176} f={SANS} s={36} w="bold">b)</Tx>
      <Tx x={328} y={681} f={SERIF} s={36} w="bold">c)</Tx>
      <Tx x={894} y={681} f={SERIF} s={36} w="bold">d)</Tx>
      <Tx x={548} y={592} f={SANS} s={34}>W<Sub b="bold" s={0.68}>skew</Sub></Tx>
      <Tx x={1108} y={587} f={SERIF} s={38} ls={1}>
        <span style={{ fontStyle: "italic" }}>σ</span><Sub b="bold">w</Sub><Sup>2</Sup> [m<Sup>2</Sup>s<Sup>−2</Sup>]
      </Tx>
      <Tx x={548} y={1386} f={SERIF} s={38}>
        log<Sub>10</Sub>(ϵ [m<Sup>2</Sup>s<Sup>−3</Sup>])
      </Tx>
      <Tx x={1107} y={1384} f={SERIF} s={40}>
        <span style={{ fontStyle: "italic", fontWeight: "bold" }}>θ</span> [C]
      </Tx>
      <Tx x={1136} y={1139} f={SERIF} s={38} w="bold" align="left">All</Tx>
      <Tx x={1136} y={1198} f={SERIF} s={38} w="bold" align="left" color={GREEN}>Coupled</Tx>
      <Tx x={1136} y={1256} f={SERIF} s={38} w="bold" align="left" color={RED}>Decoupled</Tx>

      {/* right side labels */}
      <Tx x={1483} y={274} f={SERIF} s={36} w="bold" rot={-90}>PDF [% bin<Sup>−1</Sup>]</Tx>
      <Tx x={1483} y={707} f={SERIF} s={36} w="bold" rot={-90}>PDF [% bin<Sup>−1</Sup>]</Tx>
      <Tx x={1483} y={1140} f={SERIF} s={36} w="bold" rot={-90}>PDF [% bin<Sup>−1</Sup>]</Tx>
      <Tx x={2450} y={1140} f={SERIF} s={36} w="bold" rot={-90}>PDF [% bin<Sup>−1</Sup>]</Tx>

      <Tx x={1650} y={171} f={SANS} s={34} w="bold">a)</Tx>
      <Tx x={2121} y={171} f={SANS} s={34} w="bold">b)</Tx>
      <Tx x={2592} y={171} f={SANS} s={34} w="bold">c)</Tx>
      <Tx x={1650} y={604} f={SANS} s={34} w="bold">d)</Tx>
      <Tx x={2121} y={604} f={SANS} s={34} w="bold">e)</Tx>
      <Tx x={2592} y={604} f={SANS} s={34} w="bold">f)</Tx>
      <Tx x={1650} y={1042} f={SANS} s={34} w="bold">g)</Tx>
      <Tx x={2595} y={1042} f={SANS} s={34} w="bold">h)</Tx>

      <Tx x={1837} y={503} f={SERIF} s={37} w="bold">W [m s<Sup>−1</Sup>]</Tx>
      <Tx x={2308} y={503} f={SERIF} s={37} w="bold">W<Sub>skew</Sub></Tx>
      <Tx x={2779} y={503} f={SERIF} s={37} w="bold">log<Sub>10</Sub>(ϵ [m<Sup>2</Sup>s<Sup>−3</Sup>])</Tx>
      <Tx x={1837} y={940} f={SERIF} s={37} w="bold">Z<Sub>cloud base</Sub> [km]</Tx>
      <Tx x={2308} y={940} f={SERIF} s={37} w="bold">ΔZ<Sub>cloud</Sub> [km]</Tx>
      <Tx x={2779} y={940} f={SERIF} s={37} w="bold">ΔZ<Sub>ML</Sub> [km]</Tx>
      <Tx x={1837} y={1372} f={SERIF} s={37} w="bold">LWP [g m<Sup>−2</Sup>]</Tx>
      <Tx x={2779} y={1372} f={SERIF} s={37} w="bold">IWP [g m<Sup>−2</Sup>]</Tx>
    </div>
  );
}
